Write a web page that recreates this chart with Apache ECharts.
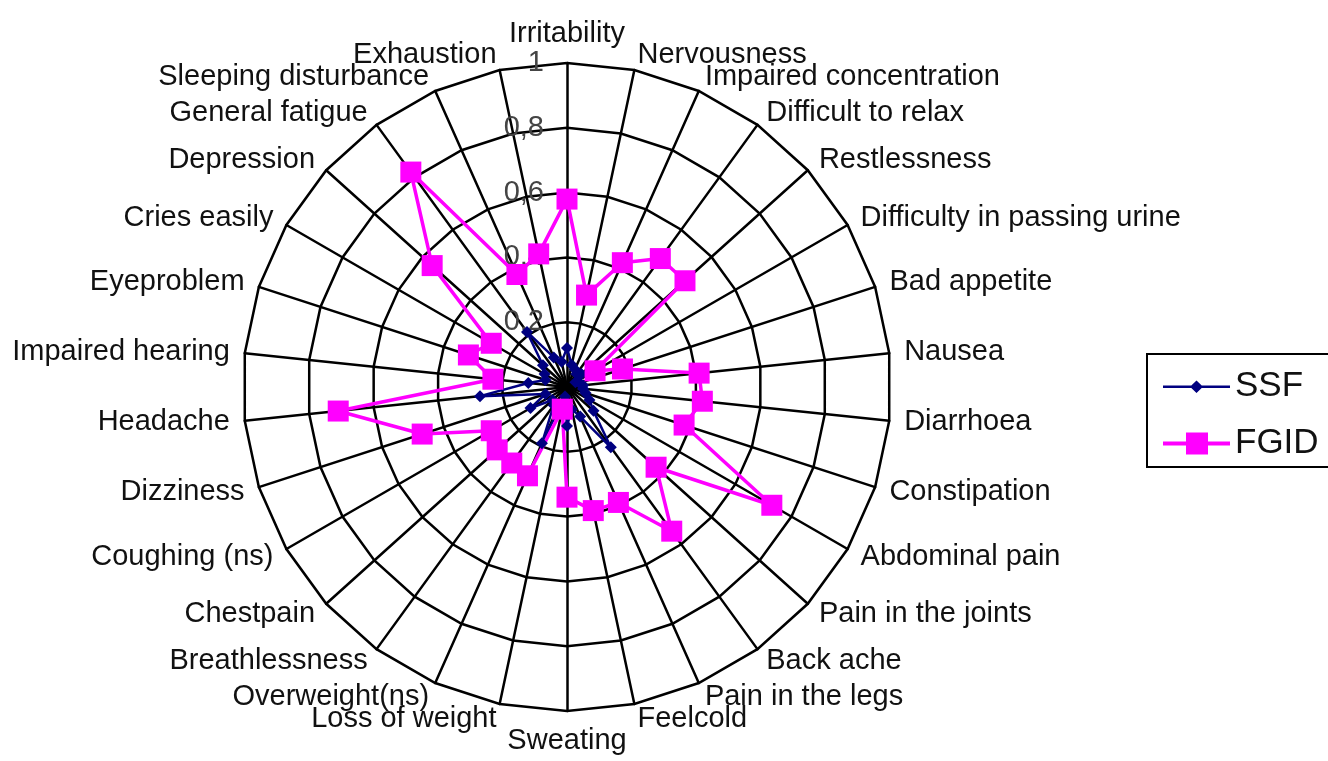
<!DOCTYPE html>
<html>
<head>
<meta charset="utf-8">
<title>SSF vs FGID</title>
<script src="https://cdn.jsdelivr.net/npm/echarts@6/dist/echarts.min.js"></script>
<style>
  html, body { margin: 0; padding: 0; background: #fff; }
  #main { width: 1328px; height: 761px; }
</style>
</head>
<body>
<div id="main"></div>
<script>
// symptoms, clockwise from the top
var symptoms = ['Irritability', 'Nervousness', 'Impaired concentration', 'Difficult to relax',
  'Restlessness', 'Difficulty in passing urine', 'Bad appetite', 'Nausea', 'Diarrhoea',
  'Constipation', 'Abdominal pain', 'Pain in the joints', 'Back ache', 'Pain in the legs',
  'Feelcold', 'Sweating', 'Loss of weight', 'Overweight(ns)', 'Breathlessness', 'Chestpain',
  'Coughing (ns)', 'Dizziness', 'Headache', 'Impaired hearing', 'Eyeproblem', 'Cries easily',
  'Depression', 'General fatigue', 'Sleeping disturbance', 'Exhaustion'];

var ssf = [0.12, 0.07, 0.06, 0.05, 0.06, 0.03, 0.04, 0.05, 0.05, 0.06,
  0.08, 0.11, 0.23, 0.10, 0.07, 0.12, 0.03, 0.19, 0.07, 0.06,
  0.13, 0.07, 0.27, 0.12, 0.07, 0.08, 0.10, 0.21, 0.10, 0.08];

var fgid = [0.58, 0.29, 0.42, 0.49, 0.49, 0.10, 0.18, 0.41, 0.42, 0.38,
  0.73, 0.37, 0.55, 0.39, 0.39, 0.34, 0.07, 0.30, 0.29, 0.29,
  0.27, 0.47, 0.71, 0.23, 0.32, 0.27, 0.56, 0.82, 0.38, 0.42];

var seriesNames = ['SSF', 'FGID'];

// echarts radar runs counter-clockwise, so keep the first axis and flip the rest
function cw(arr) {
  return [arr[0]].concat(arr.slice(1).reverse());
}

var chart = echarts.init(document.getElementById('main'));

var indicators = cw(symptoms).map(function (s, i) {
  var ind = { name: s, min: 0, max: 1 };
  if (i === 0) ind.axisLabel = { show: true };  // scale only on the top axis
  return ind;
});

var option = {
  backgroundColor: '#fff',
  animation: false,
  legend: {
    orient: 'vertical',
    left: 1147,
    top: 354,
    padding: [15, 40, 6, 16],
    itemGap: 22,
    itemWidth: 67,
    itemHeight: 22,
    borderColor: '#000',
    borderWidth: 2,
    borderRadius: 0,
    textStyle: { fontSize: 35, fontFamily: 'Liberation Sans', color: '#111' },
    data: [
      { name: 'SSF', icon: 'path://M0,0 M67,22 M0,10 L67,10 L67,12.5 L0,12.5 Z M33.5,5 L40,11.2 L33.5,17.5 L27,11.2 Z' },
      { name: 'FGID', icon: 'path://M0,9 L67,9 L67,13 L0,13 Z M23,0 L45,0 L45,22 L23,22 Z' }
    ]
  },
  radar: {
    center: [567, 387],
    radius: 324,
    startAngle: 90,
    shape: 'polygon',
    splitNumber: 5,
    indicator: indicators,
    axisName: {
      color: '#111',
      fontSize: 29,
      fontFamily: 'Liberation Sans'
    },
    nameGap: 15,
    axisLine: { lineStyle: { color: '#000', width: 2.5 } },
    splitLine: { lineStyle: { color: '#000', width: 2.5 } },
    splitArea: { show: false },
    axisTick: { show: false },
    axisLabel: {
      show: false,
      color: '#444',
      fontSize: 29,
      fontFamily: 'Liberation Sans',
      margin: 23,
      formatter: function (v) { return v === 0 ? '' : String(v).replace('.', ','); }
    }
  },
  series: [
    {
      name: seriesNames[0],
      type: 'radar',
      symbol: 'diamond',
      symbolSize: 12,
      itemStyle: { color: '#000080' },
      lineStyle: { color: '#000080', width: 2.5 },
      data: [{ name: seriesNames[0], value: cw(ssf) }]
    },
    {
      name: seriesNames[1],
      type: 'radar',
      symbol: 'rect',
      symbolSize: 21,
      itemStyle: { color: '#ff00ff' },
      lineStyle: { color: '#ff00ff', width: 3.5 },
      data: [{ name: seriesNames[1], value: cw(fgid) }]
    }
  ]
};

chart.setOption(option);
</script>
</body>
</html>
